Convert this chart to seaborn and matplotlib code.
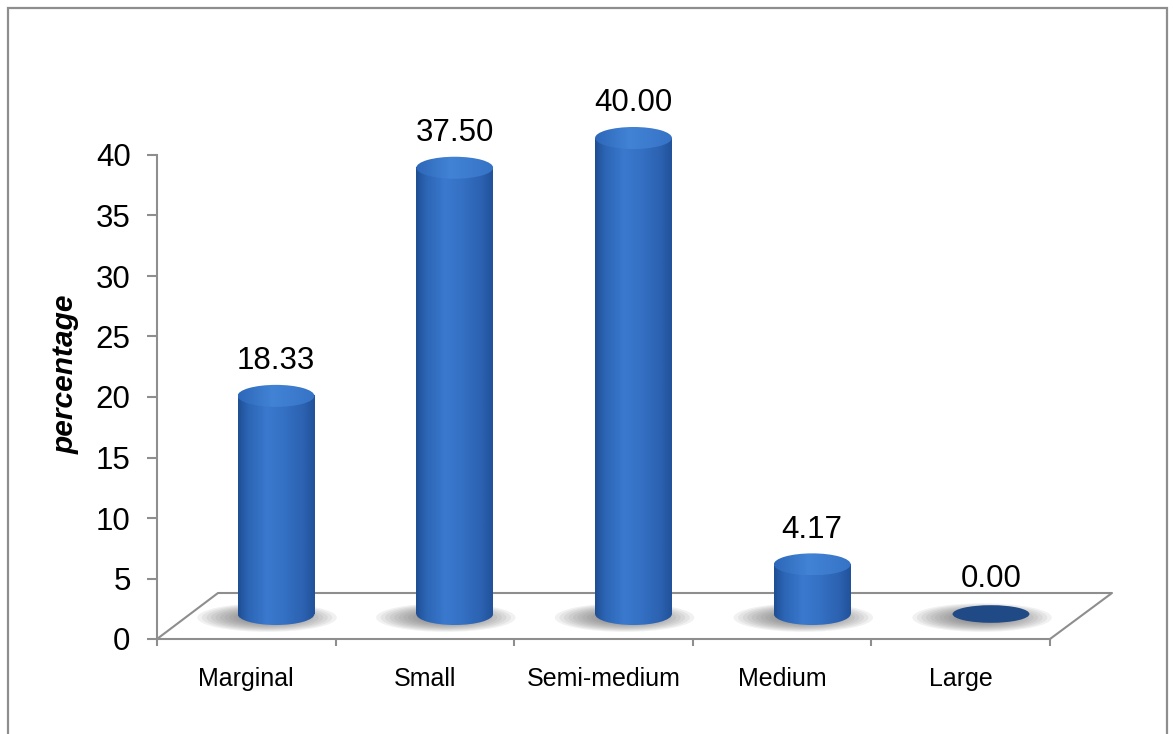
import numpy as np
import matplotlib
matplotlib.use("Agg")
import matplotlib.pyplot as plt
from matplotlib.patches import Ellipse, Rectangle
from matplotlib.lines import Line2D
from matplotlib.colors import LinearSegmentedColormap
import seaborn as sns

# ---- data ----
categories = ["Marginal", "Small", "Semi-medium", "Medium", "Large"]
percentages = [18.33, 37.50, 40.00, 4.17, 0.00]
y_ticks = [0, 5, 10, 15, 20, 25, 30, 35, 40]
y_label = "percentage"

# ---- canvas ----
W, H, DPI = 1173, 734, 100

sns.set_theme(style="white")
plt.rcParams["font.family"] = ["Liberation Sans", "DejaVu Sans"]

fig = plt.figure(figsize=(W / DPI, H / DPI), dpi=DPI)
fig.patch.set_facecolor("white")


def fx(px):
    return px / W


def fy(py):
    return 1 - py / H


GREY = "#8e8e8e"
n = len(categories)

# outer frame
fig.add_artist(Rectangle((fx(8), -0.05), fx(1167) - fx(8), fy(8) + 0.05,
                         fill=False, edgecolor=GREY, lw=1.6,
                         transform=fig.transFigure))

# ---- front plane: value scale and category labels ----
axf = fig.add_axes([fx(157), fy(639), fx(1050) - fx(157), fy(155) - fy(639)])
axf.patch.set_alpha(0)
axf.set_xlim(-0.5, n - 0.5)
axf.set_ylim(0, 40)
for side in ("top", "right"):
    axf.spines[side].set_visible(False)
for side in ("left", "bottom"):
    axf.spines[side].set_color(GREY)
    axf.spines[side].set_linewidth(1.5)
axf.set_yticks(y_ticks)
axf.set_yticklabels([str(t) for t in y_ticks])
axf.tick_params(axis="y", direction="out", length=7, width=1.5, color=GREY,
                labelsize=22.5, labelcolor="black", pad=12, left=True)
axf.set_xticks(np.arange(-0.5, n, 1.0))
axf.set_xticklabels([])
axf.tick_params(axis="x", which="major", direction="out", length=5, width=1.5,
                color=GREY, bottom=True)
axf.set_xticks(np.arange(n), minor=True)
axf.set_xticklabels(categories, minor=True)
axf.tick_params(axis="x", which="minor", length=0, labelsize=18,
                labelcolor="black", pad=20)
axf.grid(False)

# floor of the chart
axf.add_line(Line2D([fx(157), fx(218), fx(1112), fx(1050)],
                    [fy(639), fy(593), fy(593), fy(639)],
                    color=GREY, lw=1.5, transform=fig.transFigure,
                    clip_on=False))

fig.text(fx(66), fy(374), y_label, rotation=90, ha="center", va="center",
         fontsize=21.5, fontstyle="italic", fontweight="bold", color="black")

# ---- cylinders (mid-depth plane) ----
zero_px, ppu = 614.0, 11.9          # baseline pixel row, pixels per percent
first_px, step_px = 276.0, 178.75   # first category centre, category spacing
y_lo, y_hi = -3, 50
ax = fig.add_axes([fx(first_px - step_px / 2), fy(zero_px - y_lo * ppu),
                   n * step_px / W, (y_hi - y_lo) * ppu / H])
ax.patch.set_alpha(0)

sns.barplot(x=categories, y=percentages, ax=ax, width=0.43, color="#2E68B8",
            saturation=1, edgecolor="none", zorder=2)

body_cmap = LinearSegmentedColormap.from_list(
    "body", [(0.0, "#1F4E92"), (0.12, "#2B64B3"), (0.38, "#3A79CE"),
             (0.55, "#3673C7"), (0.85, "#2C62B1"), (1.0, "#21529A")])
top_cmap = LinearSegmentedColormap.from_list(
    "top", [(0.0, "#2D67B9"), (0.45, "#4283D5"), (1.0, "#3673C6")])
grad = np.linspace(0, 1, 256).reshape(1, -1)
ell_h = 1.85

for patch, v in zip(ax.patches, percentages):
    x0, w = patch.get_x(), patch.get_width()
    xc = x0 + w / 2

    # soft floor shadow
    for k in range(12):
        s = 1 - k * 0.065
        ax.add_patch(Ellipse((xc - 0.05, -0.3), 0.78 * s, 2.4 * s,
                             facecolor="#5f5f5f", edgecolor="none",
                             alpha=0.085, zorder=1))

    if v > 0:
        ax.imshow(grad, cmap=body_cmap, extent=[x0, x0 + w, 0, v],
                  aspect="auto", interpolation="bicubic", zorder=2)
        bottom = Ellipse((xc, 0), w, ell_h, transform=ax.transData)
        im = ax.imshow(grad, cmap=body_cmap,
                       extent=[x0, x0 + w, -ell_h / 2, 0.01],
                       aspect="auto", interpolation="bicubic", zorder=2)
        im.set_clip_path(bottom)
        top = Ellipse((xc, v), w, ell_h, transform=ax.transData)
        imt = ax.imshow(grad, cmap=top_cmap,
                        extent=[x0, x0 + w, v - ell_h / 2, v + ell_h / 2],
                        aspect="auto", interpolation="bicubic", zorder=3)
        imt.set_clip_path(top)
    else:
        ax.add_patch(Ellipse((xc, 0), w, ell_h * 0.8, facecolor="#1F4A85",
                             edgecolor="none", zorder=3))

    ax.annotate(f"{v:.2f}", (xc, v), xytext=(0, 25), textcoords="offset points",
                ha="center", va="center", fontsize=22.5, color="black", zorder=4)

ax.set_xlim(-0.5, n - 0.5)
ax.set_ylim(y_lo, y_hi)
ax.axis("off")

fig.savefig("out.png", dpi=DPI, facecolor="white")
